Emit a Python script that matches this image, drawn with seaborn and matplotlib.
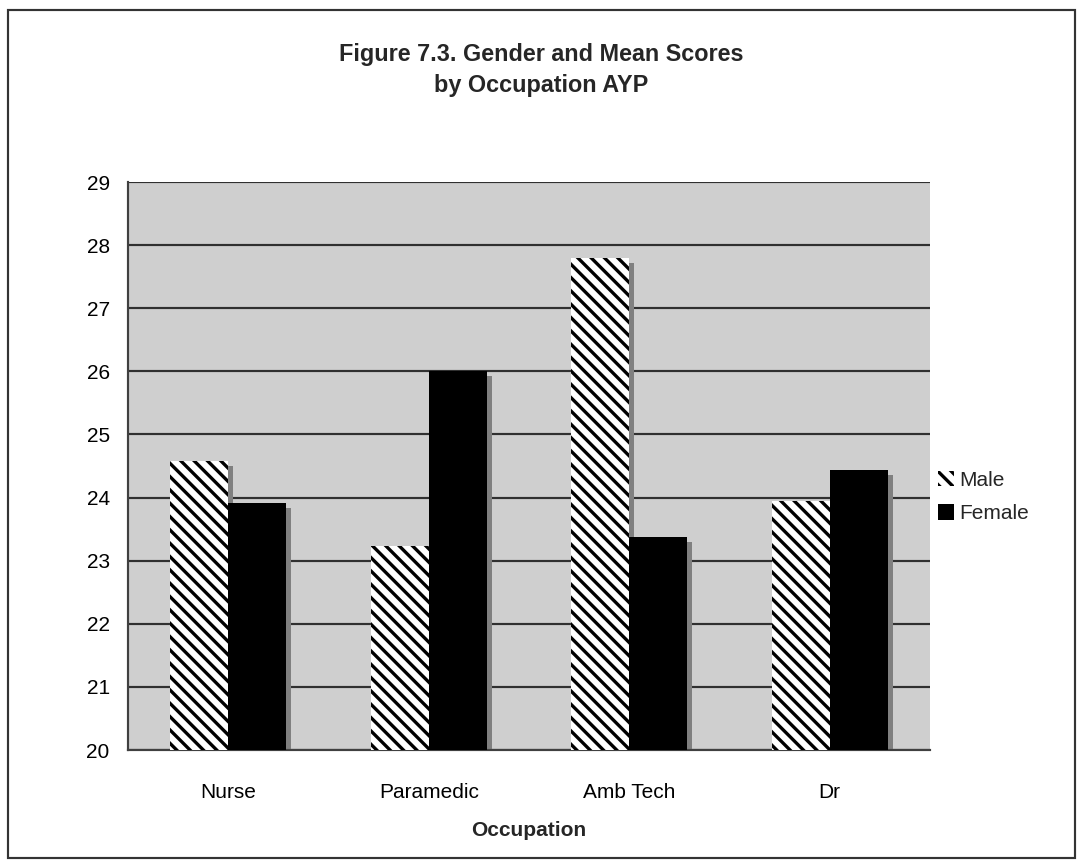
"""
Figure 7.3 - Gender and mean scores by occupation (AYP)
Grouped bar chart, old Excel style with drop shadows and hatched bars
"""

import matplotlib
matplotlib.use("Agg")
import matplotlib.pyplot as plt
import matplotlib.transforms as mtransforms
from matplotlib.patches import Rectangle
import pandas as pd
import seaborn as sns

# Data
occupations = ["Nurse", "Paramedic", "Amb Tech", "Dr"]
genders = ["Male", "Female"]
male_scores = [24.58, 23.24, 27.80, 23.95]
female_scores = [23.92, 26.00, 23.38, 24.44]
y_ticks = list(range(20, 30))

df = pd.DataFrame({
    "Occupation": occupations * 2,
    "Gender": ["Male"] * len(occupations) + ["Female"] * len(occupations),
    "Score": male_scores + female_scores,
})

# Style
sns.set_style("white")
plt.rcParams["font.family"] = ["Liberation Sans", "DejaVu Sans"]
plt.rcParams["hatch.linewidth"] = 2.0

DPI = 120
W, H = 1083, 867
fig = plt.figure(figsize=(W / DPI, H / DPI), dpi=DPI)
fig.patch.set_facecolor("white")

# plot area placed to match the reference (pixels -> figure fraction)
ax = fig.add_axes([128 / W, 1 - 750 / H, (930 - 128) / W, (750 - 182) / H])
ax.set_facecolor("#cfcfcf")

sns.barplot(data=df, x="Occupation", y="Score", hue="Gender", order=occupations,
            hue_order=genders, palette={"Male": "white", "Female": "black"},
            width=0.58, gap=0, linewidth=0, saturation=1, legend=False,
            ax=ax, zorder=3)

# hatched male bars
for bar in ax.containers[0]:
    bar.set_hatch("\\\\\\")
    bar.set_edgecolor("black")
    bar.set_linewidth(0)

# drop shadows: same bars shifted right / down by a few pixels
shadow_tr = ax.transData + mtransforms.ScaledTranslation(5 / DPI, -5 / DPI, fig.dpi_scale_trans)
for cont in ax.containers:
    for bar in cont:
        sh = Rectangle(bar.get_xy(), bar.get_width(), bar.get_height(),
                       facecolor="#808080", edgecolor="none", zorder=2,
                       transform=shadow_tr)
        ax.add_patch(sh)

# axes
ax.set_xlim(-0.5, len(occupations) - 0.5)
ax.set_ylim(20, 29)
ax.set_yticks(y_ticks)
ax.yaxis.grid(True, color="#303030", linewidth=1.3)
ax.xaxis.grid(False)
ax.set_axisbelow(True)

for side in ["top", "right"]:
    ax.spines[side].set_visible(False)
for side in ["left", "bottom"]:
    ax.spines[side].set_color("#404040")
    ax.spines[side].set_linewidth(1.3)

ax.set_xticks([i - 0.5 for i in range(len(occupations) + 1)], minor=True)
ax.tick_params(axis="x", which="minor", length=6, width=1.2, color="#404040", direction="out")
ax.tick_params(axis="x", which="major", length=0, pad=20, labelsize=12.5, labelcolor="black")
ax.tick_params(axis="y", length=6, width=1.2, color="#404040", direction="out",
               pad=5, labelsize=12.5, labelcolor="black")

ax.set_ylabel("")
ax.set_xlabel("Occupation", fontsize=12.5, fontweight="bold", labelpad=11)

# legend outside on the right, no frame
handles = [ax.containers[0][0], ax.containers[1][0]]
ax.legend(handles, genders, loc="center left", bbox_to_anchor=(938 / W, 1 - 497 / H),
          bbox_transform=fig.transFigure, frameon=False, fontsize=12.5,
          handlelength=0.75, handleheight=0.75, handletextpad=0.25, labelspacing=0.7,
          borderaxespad=0, borderpad=0)

# title
fig.text(0.5, 1 - 70 / H, "Figure 7.3. Gender and Mean Scores\nby Occupation AYP",
         ha="center", va="center", fontsize=14, fontweight="bold", linespacing=1.45)

# outer chart frame
fig.patches.append(Rectangle((8 / W, 1 - 858 / H), (1075 - 8) / W, (858 - 10) / H,
                             transform=fig.transFigure, fill=False,
                             edgecolor="#333333", linewidth=1.3))

fig.savefig("out.png", dpi=DPI)
